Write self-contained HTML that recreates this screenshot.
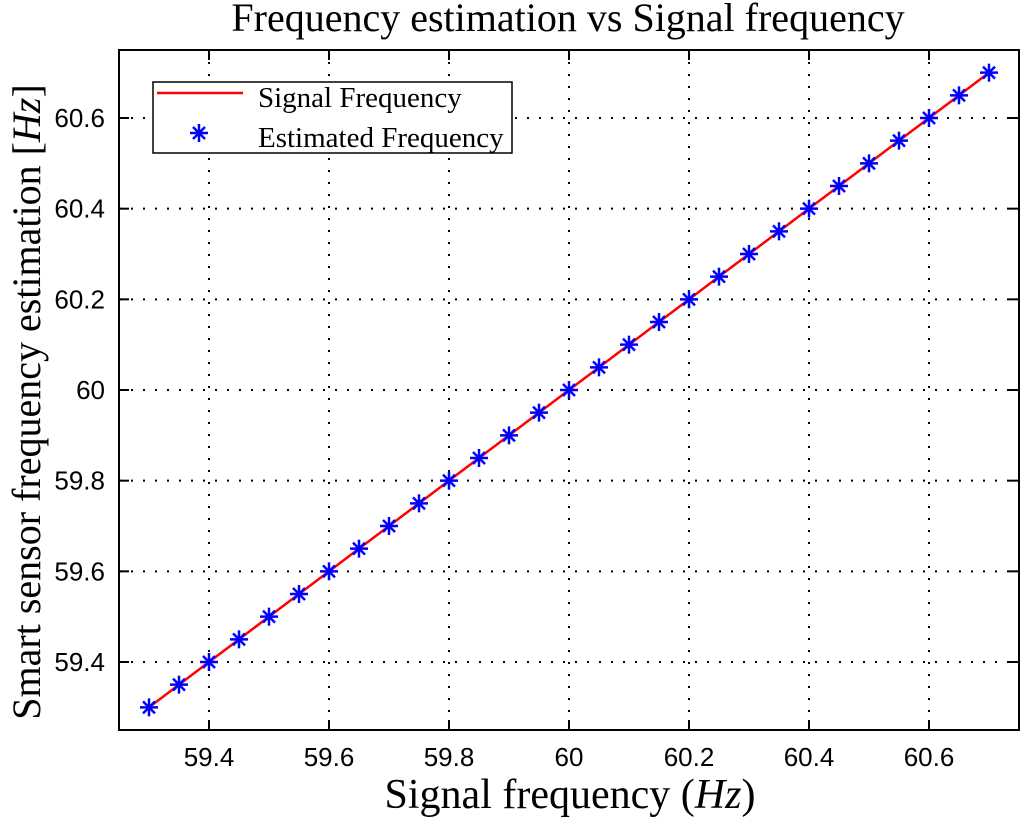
<!DOCTYPE html>
<html><head><meta charset="utf-8"><style>
html,body{margin:0;padding:0;background:#fff}
svg{display:block}
.tk{font-family:"Liberation Sans",sans-serif;font-size:26px;fill:#000}
.sf{font-family:"Liberation Serif",serif;fill:#000}
</style></head><body>
<svg id="chart" width="1024" height="818">
<text class="sf" x="568" y="31" font-size="40" text-anchor="middle">Frequency estimation vs Signal frequency</text>
<g id="grid"></g>
<g id="ticks"></g>
<polyline id="line" fill="none" stroke="#ff0000" stroke-width="2.5"></polyline>
<g id="pts"></g>
<rect x="119" y="50" width="900" height="680" fill="none" stroke="#000" stroke-width="2"/>
<g>
<rect x="153" y="82" width="359" height="71" fill="#fff" stroke="#000" stroke-width="1.5"/>
<line x1="157" y1="93" x2="243" y2="93" stroke="#ff0000" stroke-width="2.5"/>
<text class="sf" x="258" y="107" font-size="29">Signal Frequency</text>
<g stroke="#0000ff" stroke-width="2.5">
<line x1="199" y1="124" x2="199" y2="142"/><line x1="190" y1="133" x2="208" y2="133"/>
<line x1="193" y1="127" x2="205" y2="139"/><line x1="193" y1="139" x2="205" y2="127"/></g>
<text class="sf" x="258" y="147" font-size="29">Estimated Frequency</text>
</g>
<text class="sf" x="570" y="808" font-size="42" text-anchor="middle">Signal frequency (<tspan font-style="italic">Hz</tspan>)</text>
<text class="sf" font-size="40" text-anchor="middle" transform="translate(40,402) rotate(-90)">Smart sensor frequency estimation [<tspan font-style="italic">Hz</tspan>]</text>
</svg>
<script>
const xTicks=[59.4,59.6,59.8,60,60.2,60.4,60.6];
const yTicks=[59.4,59.6,59.8,60,60.2,60.4,60.6];
const xTickLabels=["59.4","59.6","59.8","60","60.2","60.4","60.6"];
const yTickLabels=["59.4","59.6","59.8","60","60.2","60.4","60.6"];
const signalFreq=[59.3,59.35,59.4,59.45,59.5,59.55,59.6,59.65,59.7,59.75,59.8,59.85,59.9,59.95,60,60.05,60.1,60.15,60.2,60.25,60.3,60.35,60.4,60.45,60.5,60.55,60.6,60.65,60.7];
const estimatedFreq=[59.3,59.35,59.4,59.45,59.5,59.55,59.6,59.65,59.7,59.75,59.8,59.85,59.9,59.95,60,60.05,60.1,60.15,60.2,60.25,60.3,60.35,60.4,60.45,60.5,60.55,60.6,60.65,60.7];
const X0=119,X1=1019,Y0=730,Y1=50,MIN=59.25,MAX=60.75;
const sx=v=>X0+(v-MIN)/(MAX-MIN)*(X1-X0);
const sy=v=>Y0-(v-MIN)/(MAX-MIN)*(Y0-Y1);
const NS="http://www.w3.org/2000/svg";
function mk(t,a,p){const e=document.createElementNS(NS,t);for(const k in a)e.setAttribute(k,a[k]);p.appendChild(e);return e;}
const grid=document.getElementById('grid'),ticks=document.getElementById('ticks');
xTicks.forEach((v,i)=>{const x=sx(v);
 const g=mk('line',{x1:x,y1:Y1,x2:x,y2:Y0,stroke:'#000','stroke-width':2,'stroke-dasharray':'2 10'},grid);
 
 
 mk('line',{x1:x,y1:Y0,x2:x,y2:Y0-10,stroke:'#000','stroke-width':2},ticks);
 mk('line',{x1:x,y1:Y1,x2:x,y2:Y1+10,stroke:'#000','stroke-width':2},ticks);
 const t=mk('text',{x:x,y:Y0+36,'text-anchor':'middle',class:'tk'},ticks);t.textContent=xTickLabels[i];
 
 
});
yTicks.forEach((v,i)=>{const y=sy(v);
 const g=mk('line',{x1:X0,y1:y,x2:X1,y2:y,stroke:'#000','stroke-width':2,'stroke-dasharray':'2 10'},grid);
 
 
 mk('line',{x1:X0,y1:y,x2:X0+10,y2:y},ticks).setAttribute('stroke','#000');
 mk('line',{x1:X1,y1:y,x2:X1-10,y2:y,stroke:'#000','stroke-width':2},ticks);
 const t=mk('text',{x:X0-14,y:y+9,'text-anchor':'end',class:'tk'},ticks);t.textContent=yTickLabels[i];
 
 
});
ticks.querySelectorAll('line').forEach(l=>l.setAttribute('stroke-width','2'));
document.getElementById('line').setAttribute('points',signalFreq.map(v=>sx(v)+','+sy(v)).join(' '));
const pts=document.getElementById('pts');
signalFreq.forEach((v,i)=>{const x=sx(v),y=sy(estimatedFreq[i]);
 const g=mk('g',{stroke:'#0000ff','stroke-width':2.5},pts);
 
 
 mk('line',{x1:x,y1:y-9,x2:x,y2:y+9},g);mk('line',{x1:x-9,y1:y,x2:x+9,y2:y},g);
 mk('line',{x1:x-6,y1:y-6,x2:x+6,y2:y+6},g);mk('line',{x1:x-6,y1:y+6,x2:x+6,y2:y-6},g);
});
</script>
</body></html>
